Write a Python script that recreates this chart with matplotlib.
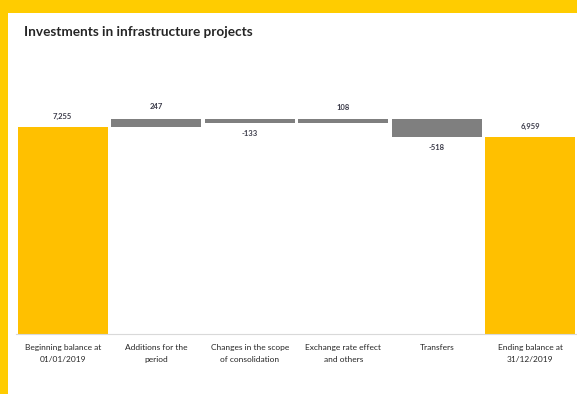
import numpy as np
import matplotlib.pyplot as plt
from matplotlib.patches import Rectangle

# Waterfall of the infrastructure investment balance over the year
categories = ['Beginning balance at\n01/01/2019', 'Additions for the\nperiod',
              'Changes in the scope\nof consolidation', 'Exchange rate effect\nand others',
              'Transfers', 'Ending balance at\n31/12/2019']
opening = 7255
movements = [247, -133, 108, -518]
closing = opening + sum(movements)

yellow = '#FFC000'
grey = '#7F7F7F'
txt = '#3A3A48'

plt.rcParams['font.family'] = ['Lato', 'DejaVu Sans']

fig = plt.figure(figsize=(5.77, 3.94), dpi=100)
fig.patch.set_facecolor('#FFCC00')
# white panel inside the yellow frame
fig.patches.append(Rectangle((8/577, 0), 1, 1 - 13/394, transform=fig.transFigure,
                             facecolor='white', edgecolor='none', zorder=-10))

ax = fig.add_axes([16/577, 60/394, 561/577, 274/394])
ax.set_facecolor('none')

x = np.arange(len(categories))
w = 0.96

# totals
ax.bar(x[0], opening, bottom=0, width=w, color=yellow)
ax.bar(x[-1], closing, bottom=0, width=w, color=yellow)

# movements, stacked on the running balance
level = opening
for i, m in enumerate(movements):
    ax.bar(x[i+1], m, bottom=level, width=w, color=grey)
    if m >= 0:
        ax.annotate(f'{m:,}', (x[i+1], level + m), xytext=(0, 6), textcoords='offset points',
                    ha='center', va='bottom', fontsize=5.5, color=txt, fontweight='bold')
    else:
        ax.annotate(f'{m:,}', (x[i+1], level + m), xytext=(0, -5), textcoords='offset points',
                    ha='center', va='top', fontsize=5.5, color=txt, fontweight='bold')
    level += m

for xi, v in [(x[0], opening), (x[-1], closing)]:
    ax.annotate(f'{v:,}', (xi, v), xytext=(0, 5), textcoords='offset points',
                ha='center', va='bottom', fontsize=5.5, color=txt, fontweight='bold')

ax.set_xlim(-0.5, len(categories) - 0.5)
ax.set_ylim(1255, 1255 + 274 * 29)
ax.set_xticks(x, categories, fontsize=6, color='#262626', linespacing=1.9)
ax.tick_params(axis='x', length=0, pad=7)
ax.set_yticks([])
for s in ['top', 'right', 'left']:
    ax.spines[s].set_visible(False)
ax.spines['bottom'].set_color('#D9D9D9')
ax.spines['bottom'].set_linewidth(0.8)

fig.text(24/577, 1 - 32/394, 'Investments in infrastructure projects', fontsize=9.8,
         fontweight='bold', color='#262626', va='center', ha='left')

fig.savefig('out.png', dpi=100)
